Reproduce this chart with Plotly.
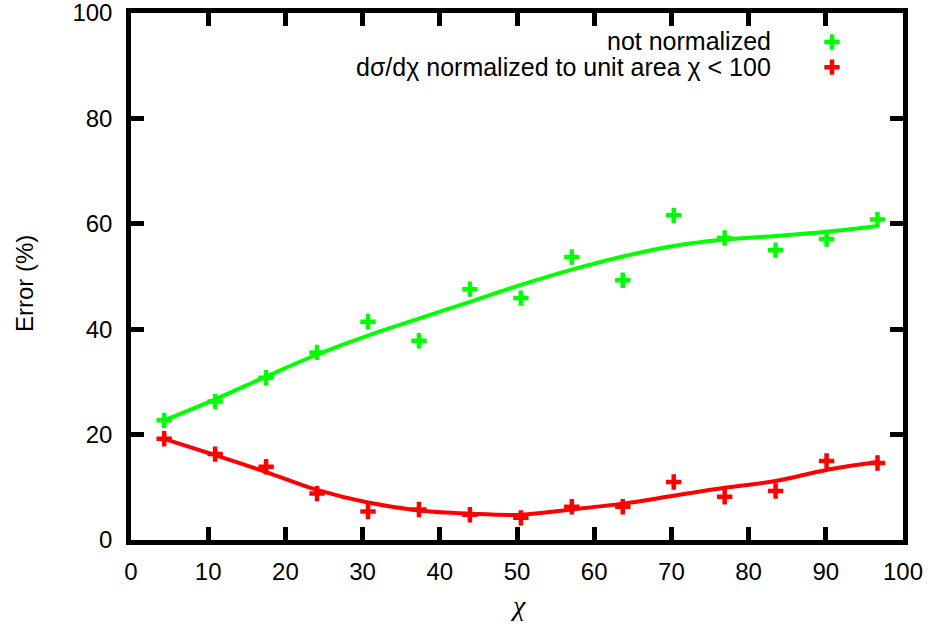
import plotly.graph_objects as go

# data
chi = [4.3, 10.9, 17.5, 24.1, 30.7, 37.3, 43.9, 50.5, 57.1, 63.7, 70.3, 76.9, 83.5, 90.1, 96.7]
err_not_norm = [22.7, 26.3, 30.8, 35.6, 41.4, 37.8, 47.6, 45.9, 53.7, 49.3, 61.6, 57.3, 55.0, 57.1, 60.8]
err_norm = [19.2, 16.3, 13.9, 8.8, 5.4, 5.8, 4.8, 4.2, 6.3, 6.3, 11.0, 8.2, 9.3, 15.0, 14.6]
fit_not_norm = [22.7, 26.7, 31.0, 35.2, 38.8, 42.0, 45.2, 48.4, 51.3, 53.8, 55.8, 57.0, 57.7, 58.5, 59.6]
fit_norm = [19.2, 16.1, 12.9, 9.5, 7.1, 5.6, 5.0, 4.8, 5.8, 6.9, 8.4, 9.9, 11.2, 13.3, 14.8]
x_ticks = [0, 10, 20, 30, 40, 50, 60, 70, 80, 90, 100]
y_ticks = [0, 20, 40, 60, 80, 100]
labels = ["not normalized", "dσ/dχ normalized to unit area χ < 100"]

GREEN = "#00ff00"
RED = "#ff0000"
FONT = "Liberation Sans, Arial, sans-serif"

W, H = 932, 629
ML, MR, MT, MB = 131, 29, 12.5, 88.5
PW, PH = W - ML - MR, H - MT - MB


def px(x):
    return (x - ML) / PW


def py(y):
    return (H - MB - y) / PH


fig = go.Figure()
for fit, col in [(fit_not_norm, GREEN), (fit_norm, RED)]:
    fig.add_trace(go.Scatter(x=chi, y=fit, mode="lines", line=dict(color=col, width=4, shape="spline"),
                             showlegend=False, hoverinfo="skip"))
for ys, col in [(err_not_norm, GREEN), (err_norm, RED)]:
    fig.add_trace(go.Scatter(x=chi, y=ys, mode="markers", name=" ",
                             marker=dict(symbol="cross-thin", size=11, color=col,
                                         line=dict(color=col, width=4.5))))

fig.add_annotation(xref="paper", yref="paper", x=px(773), y=py(41),
                   text=labels[0], showarrow=False, xanchor="right", yanchor="middle",
                   font=dict(family=FONT, size=25, color="black"))
fig.add_annotation(xref="paper", yref="paper", x=px(773), y=py(66.5),
                   text=labels[1], showarrow=False, xanchor="right", yanchor="middle",
                   font=dict(family=FONT, size=25, color="black"))
fig.add_annotation(xref="paper", yref="paper", x=px(518), y=py(606),
                   text="<i>χ</i>", showarrow=False, xanchor="center", yanchor="middle",
                   font=dict(family="Liberation Serif, serif", size=28, color="black"))
fig.add_annotation(xref="paper", yref="paper", x=px(25), y=py(284),
                   text="Error (%)", showarrow=False, xanchor="center", yanchor="middle", textangle=-90,
                   font=dict(family=FONT, size=24, color="black"))

axis_common = dict(showgrid=False, zeroline=False, showline=True, linecolor="black", linewidth=4.5,
                   mirror="ticks", ticks="inside", ticklen=13, tickwidth=4.5, tickcolor="black",
                   automargin=False, ticklabeloverflow="allow",
                   tickfont=dict(family=FONT, size=24, color="black"))
fig.update_xaxes(range=[0, 100], tickvals=x_ticks, ticktext=[str(v) for v in x_ticks],
                 ticklabelstandoff=6, **axis_common)
fig.update_yaxes(range=[0, 100], tickvals=y_ticks, ticktext=[str(v) for v in y_ticks],
                 ticklabelstandoff=9, **axis_common)

fig.update_layout(
    width=W, height=H,
    margin=dict(l=ML, r=MR, t=MT, b=MB, autoexpand=False),
    paper_bgcolor="white", plot_bgcolor="white",
    showlegend=True,
    legend=dict(x=px(812), y=py(24), xanchor="left", yanchor="top",
                bgcolor="rgba(0,0,0,0)", font=dict(family=FONT, size=17), itemwidth=30,
                tracegroupgap=0),
)

fig.write_html("out.html")
